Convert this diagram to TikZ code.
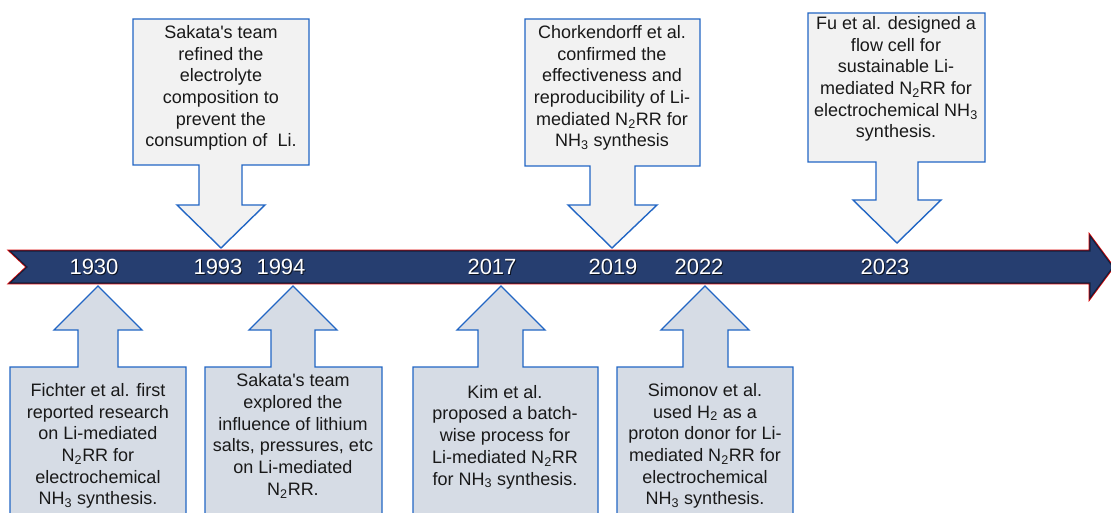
\documentclass[tikz,border=0pt]{standalone}
\usepackage{fontspec}
\setmainfont{Liberation Sans}[Ligatures=TeXOff]
\definecolor{bandfill}{RGB}{38,62,112}
\definecolor{bandline}{RGB}{20,32,60}
\definecolor{calloutblue}{RGB}{34,102,196}
\definecolor{topfill}{RGB}{242,242,242}
\definecolor{botfill}{RGB}{214,220,229}
\definecolor{txt}{RGB}{25,25,25}
\tikzset{
  topcall/.style={draw=calloutblue, fill=topfill, line width=1.4pt, line join=miter},
  botcall/.style={draw=calloutblue, fill=botfill, line width=1.4pt, line join=miter},
  calltext/.style={align=center, inner sep=0pt, text=txt, font=\fontsize{18pt}{21.7pt}\selectfont},
  year/.style={inner sep=0pt, text=white, font=\fontsize{22pt}{24pt}\selectfont},
  yearshadow/.style={inner sep=0pt, text=black, opacity=0.7, font=\fontsize{22pt}{24pt}\selectfont},
}
\newcommand\sub[1]{\textsubscript{#1}}
\begin{document}
\begin{tikzpicture}[x=1pt,y=-1pt]
\useasboundingbox (0,0) rectangle (1111,513);
\clip (0,0) rectangle (1111,513);
% timeline band
\draw[red!85!black, line width=2.6pt, line join=miter, fill=bandfill]
  (10,251) -- (1090,251) -- (1090,236) -- (1113,267) -- (1090,298) -- (1090,283) -- (10,283) -- (27,267) -- cycle;
\draw[bandline, line width=1.1pt, line join=miter, fill=bandfill]
  (10,251) -- (1090,251) -- (1090,236) -- (1113,267) -- (1090,298) -- (1090,283) -- (10,283) -- (27,267) -- cycle;
% year labels
\foreach \yr/\xx in {1930/94, 1993/218, 1994/281, 2017/492, 2019/613, 2022/699, 2023/885}{
  \node[yearshadow] (s\yr) at (\xx+1,268) {\yr};
  \node[year] (y\yr) at (\xx,267) {\yr};
}
% top callouts
\draw[topcall] (133,19) -- (309,19) -- (309,165) -- (242,165) -- (242,205) -- (265,205) -- (221,248) -- (177,205) -- (199,205) -- (199,165) -- (133,165) -- cycle;
\node[calltext] (t1993) at (221,88) {Sakata's team\\refined the\\electrolyte\\composition to\\prevent the\\consumption of\ \ Li.};
\draw[topcall] (525,19) -- (700,19) -- (700,166) -- (635,166) -- (635,205) -- (657,205) -- (612,248) -- (568,205) -- (590,205) -- (590,166) -- (525,166) -- cycle;
\node[calltext] (t2019) at (612,88) {Chorkendorff et al.\\confirmed the\\effectiveness and\\reproducibility of Li-\\mediated N\sub{2}RR for\\NH\sub{3} synthesis};
\draw[topcall] (808,13) -- (985,13) -- (985,162) -- (918,162) -- (918,200) -- (941,200) -- (897,243) -- (853,200) -- (876,200) -- (876,162) -- (808,162) -- cycle;
\node[calltext] (t2023) at (896,79) {Fu et al. designed a\\flow cell for\\sustainable Li-\\mediated N\sub{2}RR for\\electrochemical NH\sub{3}\\synthesis.};
% bottom callouts
\draw[botcall] (10,525) -- (10,367) -- (78,367) -- (78,330) -- (54,330) -- (98,286) -- (142,330) -- (118,330) -- (118,367) -- (186,367) -- (186,525);
\node[calltext] (b1930) at (98,446) {Fichter et al. first\\reported research\\on Li-mediated\\N\sub{2}RR for\\electrochemical\\NH\sub{3} synthesis.};
\draw[botcall] (205,525) -- (205,367) -- (271,367) -- (271,330) -- (249,330) -- (293,286) -- (337,330) -- (315,330) -- (315,367) -- (382,367) -- (382,525);
\node[calltext] (b1994) at (293,436) {Sakata's team\\explored the\\influence of lithium\\salts, pressures, etc\\on Li-mediated\\N\sub{2}RR.};
\draw[botcall] (413,525) -- (413,367) -- (478,367) -- (478,330) -- (457,330) -- (501,286) -- (545,330) -- (523,330) -- (523,367) -- (598,367) -- (598,525);
\node[calltext] (b2017) at (505,437) {Kim et al.\\proposed a batch-\\wise process for\\Li-mediated N\sub{2}RR\\for NH\sub{3} synthesis.};
\draw[botcall] (617,525) -- (617,367) -- (683,367) -- (683,330) -- (661,330) -- (705,286) -- (749,330) -- (728,330) -- (728,367) -- (793,367) -- (793,525);
\node[calltext] (b2022) at (705,446) {Simonov et al.\\used H\sub{2} as a\\proton donor for Li-\\mediated N\sub{2}RR for\\electrochemical\\NH\sub{3} synthesis.};
\end{tikzpicture}
\end{document}
